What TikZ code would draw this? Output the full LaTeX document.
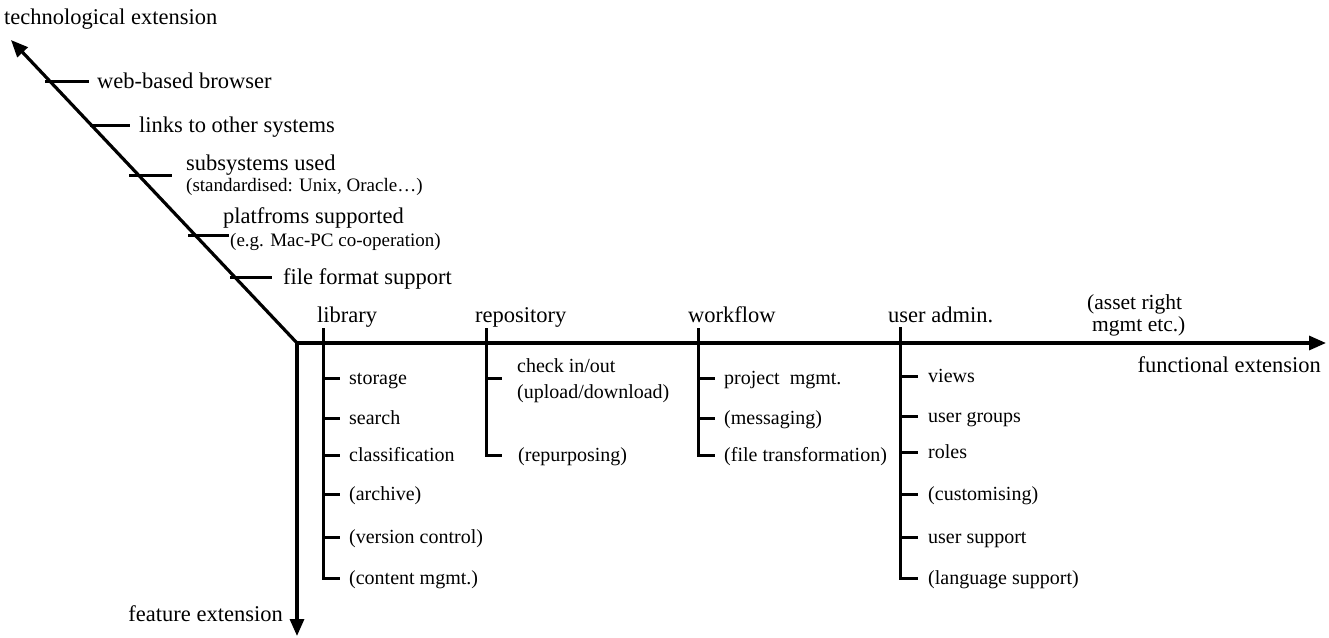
\documentclass[tikz,border=0pt]{standalone}
\usepackage{fontspec}
\setmainfont{Liberation Serif}
\usetikzlibrary{arrows.meta}
\begin{document}
\begin{tikzpicture}[x=1pt,y=-1pt,
  axis/.style={line width=3.2pt,-{Triangle[length=17pt,width=14pt]}},
  branch/.style={line width=3pt},
  tickln/.style={line width=3pt},
  big/.style={font=\fontsize{22.5}{26}\selectfont,inner sep=0pt,anchor=base west},
  item/.style={font=\fontsize{20}{26}\selectfont,inner sep=0pt,anchor=base west},
  note/.style={font=\fontsize{19}{24}\selectfont,inner sep=0pt,anchor=base west}]
\useasboundingbox (0,0) rectangle (1329,637);
% axes
\coordinate (O) at (297,343);
\coordinate (Ttip) at (11,40);
\coordinate (Ftip) at (1326,343);
\coordinate (Dtip) at (297,636);
\draw[axis] (O) -- (Ttip);
\draw[axis] (O) -- (Ftip);
\draw[axis] (O) -- (Dtip);
% axis labels
\node[big] (tech) at (4,24) {technological extension};
\node[big,anchor=base east] (func) at (1321,372) {functional extension};
\node[big,anchor=base east] (feat) at (283,621) {feature extension};
\node[big,font=\fontsize{21.5}{24}\selectfont] (asset1) at (1087,309) {(asset right};
\node[big,font=\fontsize{21.5}{24}\selectfont] (asset2) at (1092,331) {mgmt etc.)};
% technological ticks
\node[big] (web) at (97,88) {web-based browser};
\draw[tickln] (45,81) -- ([xshift=-8pt,yshift=7pt]web.base west);
\node[big] (links) at (139,132) {links to other systems};
\draw[tickln] (90,125) -- ([xshift=-9pt,yshift=7pt]links.base west);
\node[big] (subs) at (186,170) {subsystems used};
\node[note] (subsn) at (186,191) {(standardised: Unix, Oracle\ldots)};
\coordinate (subst) at (172,175);
\draw[tickln] (129,175) -- (subst);
\node[big] (plat) at (223,223) {platfroms supported};
\node[note] (platn) at (230,246) {(e.g. Mac-PC co-operation)};
\coordinate (platt) at (229,235);
\draw[tickln] (188,235) -- (platt);
\node[big] (file) at (283,284) {file format support};
\draw[tickln] (230,277) -- ([xshift=-11pt,yshift=7pt]file.base west);
% headers
\node[big] (lib) at (317,322) {library};
\node[big] (repo) at (475,322) {repository};
\node[big] (wf) at (688,322) {workflow};
\node[big] (ua) at (888,322) {user admin.};
% library branch
\coordinate (L0) at (323,328);
\draw[branch] (L0) -- (323,578) -- (340,578);
\foreach \y/\t/\n in {378/storage/l1,418/search/l2,455/classification/l3,494/(archive)/l4,537/(version control)/l5,578/(content mgmt.)/l6}{
  \node[item] (\n) at (349,\y+6) {\t};
  \draw[tickln] (323,\y) -- ([xshift=-9pt,yshift=6pt]\n.base west);
}
% repository branch
\coordinate (R0) at (486,328);
\draw[branch] (R0) -- (486,455) -- (502,455);
\node[item] (r1a) at (517,372) {check in/out};
\node[item] (r1b) at (517,398) {(upload/download)};
\draw[tickln] (486,378) -- (502,378);
\node[item] (r2) at (518,461) {(repurposing)};
% workflow branch
\coordinate (W0) at (698,328);
\draw[branch] (W0) -- (698,455) -- (714,455);
\foreach \y/\t/\n in {378/project\ \ mgmt./w1,418/(messaging)/w2,455/(file transformation)/w3}{
  \node[item] (\n) at (724,\y+6) {\t};
  \draw[tickln] (698,\y) -- ([xshift=-9pt,yshift=6pt]\n.base west);
}
% user admin branch
\coordinate (U0) at (900,327);
\draw[branch] (U0) -- (900,578) -- (917,578);
\foreach \y/\t/\n in {376/views/u1,416/user groups/u2,452/roles/u3,494/(customising)/u4,537/user support/u5,578/(language support)/u6}{
  \node[item] (\n) at (928,\y+6) {\t};
  \draw[tickln] (900,\y) -- ([xshift=-10pt,yshift=6pt]\n.base west);
}
\end{tikzpicture}
\end{document}
